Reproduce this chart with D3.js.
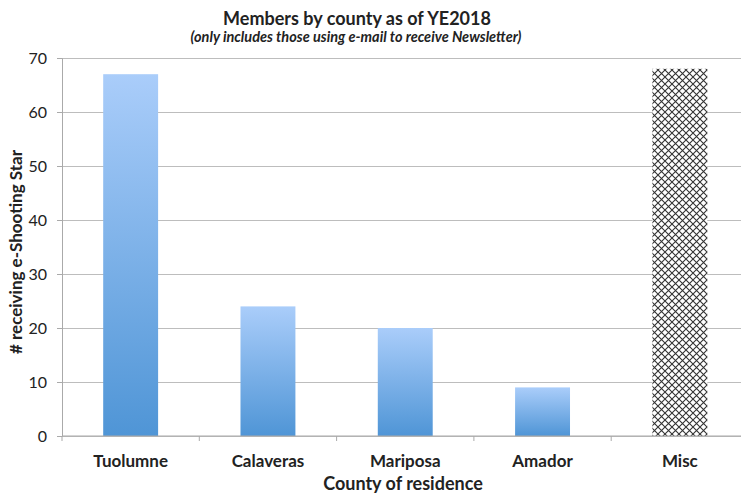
<!DOCTYPE html>
<html>
<head>
<meta charset="utf-8">
<script src="https://cdn.jsdelivr.net/npm/d3@7"></script>
<style>
  body { margin: 0; background: #fff; }
  text { font-family: Lato, "Open Sans", sans-serif; fill: #222; }
</style>
</head>
<body>
<svg id="chart" width="741" height="493"></svg>
<script>
// data
var counties = ["Tuolumne", "Calaveras", "Mariposa", "Amador", "Misc"];
var members = [67, 24, 20, 9, 68];
var yTicks = [0, 10, 20, 30, 40, 50, 60, 70];

var width = 741, height = 493;
var margin = {top: 58, left: 62, bottom: 57};
var band = 137.3;
var svg = d3.select("#chart");

var x = d3.scaleBand().domain(counties).range([margin.left, margin.left + band * 5]).paddingInner(0.6).paddingOuter(0.3);
var y = d3.scaleLinear().domain([0, 70]).range([height - margin.bottom, margin.top]);

var defs = svg.append("defs");
var grad = defs.append("linearGradient").attr("id", "barGrad")
    .attr("x1", 0).attr("y1", 0).attr("x2", 0).attr("y2", 1);
grad.append("stop").attr("offset", "0%").attr("stop-color", "#aacdfa");
grad.append("stop").attr("offset", "100%").attr("stop-color", "#4f95d6");

var hatch = defs.append("pattern").attr("id", "hatch")
    .attr("patternUnits", "userSpaceOnUse").attr("width", 7).attr("height", 7);
hatch.append("rect").attr("width", 7).attr("height", 7).attr("fill", "#fff");
hatch.append("path").attr("d", "M0,0L7,7M7,0L0,7")
    .attr("stroke", "#333").attr("stroke-width", 1.1);

// gridlines
svg.append("g")
    .attr("transform", "translate(" + margin.left + ",0)")
    .call(d3.axisLeft(y).tickValues(yTicks).tickSize(-(width - margin.left)).tickFormat(""))
    .call(function(g) {
        g.select(".domain").remove();
        g.selectAll("line").attr("stroke", "#bdbdbd").attr("stroke-width", 1.2);
    });

// y axis
svg.append("g")
    .attr("transform", "translate(" + margin.left + ",0)")
    .call(d3.axisLeft(y).tickValues(yTicks).tickSize(5).tickPadding(10))
    .call(function(g) {
        g.select(".domain").attr("stroke", "#aaa");
        g.selectAll("line").attr("stroke", "#aaa");
        g.selectAll("text").style("font-size", "16px").attr("fill", "#222");
    });

// bars
svg.selectAll(".bar")
    .data(counties)
    .enter()
    .append("rect")
    .attr("class", "bar")
    .attr("x", function(d) { return x(d); })
    .attr("width", x.bandwidth())
    .attr("y", function(d, i) { return y(members[i]); })
    .attr("height", function(d, i) { return y(0) - y(members[i]); })
    .attr("fill", function(d) { return d == "Misc" ? "url(#hatch)" : "url(#barGrad)"; });

// x axis
var xAxisTicks = d3.range(0, 6).map(function(i) { return margin.left + band * i; });
svg.append("line")
    .attr("x1", margin.left).attr("x2", width)
    .attr("y1", y(0)).attr("y2", y(0))
    .attr("stroke", "#aaa").attr("stroke-width", 1.2);
svg.selectAll(".xtick")
    .data(xAxisTicks)
    .enter()
    .append("line")
    .attr("x1", function(d) { return d; }).attr("x2", function(d) { return d; })
    .attr("y1", y(0)).attr("y2", y(0) + 5)
    .attr("stroke", "#aaa");
svg.selectAll(".xlabel")
    .data(counties)
    .enter()
    .append("text")
    .attr("x", function(d) { return x(d) + x.bandwidth() / 2; })
    .attr("y", 467)
    .attr("text-anchor", "middle")
    .style("font-size", "17px")
    .style("font-weight", "bold")
    .text(function(d) { return d; });

// titles
svg.append("text")
    .attr("x", 357).attr("y", 25)
    .attr("text-anchor", "middle")
    .style("font-size", "18px").style("font-weight", "bold")
    .text("Members by county as of YE2018");
svg.append("text")
    .attr("x", 356).attr("y", 42)
    .attr("text-anchor", "middle")
    .style("font-size", "14.5px").style("font-weight", "bold").style("font-style", "italic")
    .text("(only includes those using e-mail to receive Newsletter)");
svg.append("text")
    .attr("x", 403).attr("y", 490)
    .attr("text-anchor", "middle")
    .style("font-size", "18px").style("font-weight", "bold")
    .text("County of residence");
svg.append("text")
    .attr("transform", "translate(22," + 252 + ") rotate(-90)")
    .attr("text-anchor", "middle")
    .style("font-size", "17px").style("font-weight", "bold")
    .text("# receiving e-Shooting Star");
</script>
</body>
</html>
